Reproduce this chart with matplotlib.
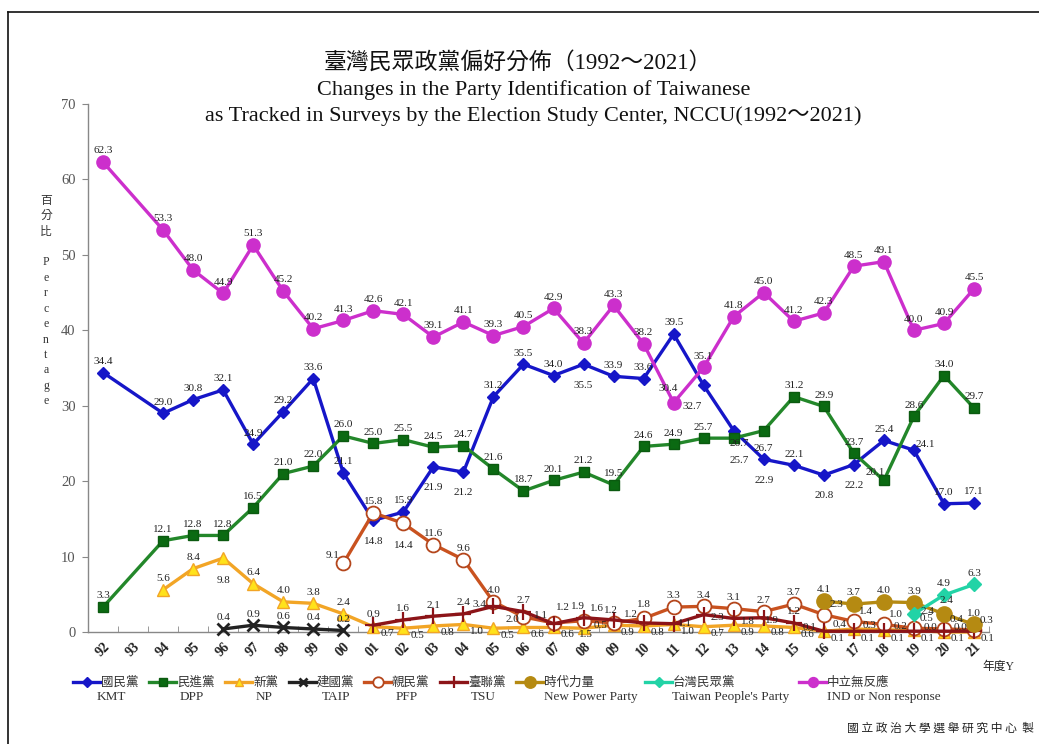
import matplotlib
matplotlib.use("Agg")
import matplotlib.pyplot as plt
from matplotlib.lines import Line2D

# ---------------- data ----------------
years_all = list(range(1992, 2022))
tick_labels = [f"{y % 100:02d}" for y in years_all]

main_years = [1992] + list(range(1994, 2022))
kmt = [34.4, 29.0, 30.8, 32.1, 24.9, 29.2, 33.6, 21.1, 14.8, 15.9, 21.9, 21.2, 31.2, 35.5,
       34.0, 35.5, 33.9, 33.6, 39.5, 32.7, 26.7, 22.9, 22.1, 20.8, 22.2, 25.4, 24.1, 17.0, 17.1]
dpp = [3.3, 12.1, 12.8, 12.8, 16.5, 21.0, 22.0, 26.0, 25.0, 25.5, 24.5, 24.7, 21.6, 18.7,
       20.1, 21.2, 19.5, 24.6, 24.9, 25.7, 25.7, 26.7, 31.2, 29.9, 23.7, 20.1, 28.6, 34.0, 29.7]
ind = [62.3, 53.3, 48.0, 44.9, 51.3, 45.2, 40.2, 41.3, 42.6, 42.1, 39.1, 41.1, 39.3, 40.5,
       42.9, 38.3, 43.3, 38.2, 30.4, 35.1, 41.8, 45.0, 41.2, 42.3, 48.5, 49.1, 40.0, 40.9, 45.5]

np_years = list(range(1994, 2022))
np_vals = [5.6, 8.4, 9.8, 6.4, 4.0, 3.8, 2.4, 0.7, 0.5, 0.8, 1.0, 0.5, 0.6, 0.6,
           0.5, 0.9, 0.8, 1.0, 0.7, 0.9, 0.8, 0.6, 0.1, 0.4, 0.3, 0.2, 0.0, 0.0]

taip_years = list(range(1996, 2001))
taip_vals = [0.4, 0.9, 0.6, 0.4, 0.2]

pfp_years = list(range(2000, 2022))
pfp_vals = [9.1, 15.8, 14.4, 11.6, 9.6, 4.0, 2.0, 1.2, 1.5, 1.2, 1.8, 3.3, 3.4, 3.1,
            2.7, 3.7, 2.3, 1.4, 1.0, 0.5, 0.4, 0.3]

tsu_years = list(range(2001, 2022))
tsu_vals = [0.9, 1.6, 2.1, 2.4, 3.4, 2.7, 1.1, 1.9, 1.6, 1.2, 1.1, 2.3, 1.8, 1.9,
            1.2, 0.1, 0.1, 0.1, 0.1, 0.1, 0.1]

npp_years = list(range(2016, 2022))
npp_vals = [4.1, 3.7, 4.0, 3.9, 2.4, 1.0]

tpp_years = [2019, 2020, 2021]
tpp_vals = [2.4, 4.9, 6.3]

# ---------------- style ----------------
SERIF = ["Liberation Serif", "Noto Sans CJK TC"]
CJK = ["Noto Sans CJK TC", "DejaVu Sans"]
plt.rcParams["font.family"] = SERIF

W, H = 1039, 744
fig = plt.figure(figsize=(W / 100, H / 100), dpi=100)
fig.patch.set_facecolor("white")

def fx(px):
    return px / W

def fy(py):
    return 1 - py / H

ax = fig.add_axes([fx(88), fy(632), fx(989) - fx(88), fy(104) - fy(632)])

xpos = {y: i for i, y in enumerate(years_all)}

series = [
    # key, years, values, line color, marker, msize, face, edge, mew
    ("KMT", main_years, kmt, "#1616C8", "D", 6.5, "#1616C8", "#1616C8", 1),
    ("DPP", main_years, dpp, "#23872A", "s", 7, "#0B6A12", "#0B5A10", 1),
    ("NP", np_years, np_vals, "#F2A526", "^", 8.5, "#FFE21A", "#F2A526", 1),
    ("TAIP", taip_years, taip_vals, "#222222", "x", 8, "#222222", "#222222", 2),
    ("PFP", pfp_years, pfp_vals, "#C9521F", "o", 10, "white", "#B4461C", 1.3),
    ("TSU", tsu_years, tsu_vals, "#8C1418", "+", 11, "#8C1418", "#8C1418", 1.6),
    ("NPP", npp_years, npp_vals, "#B58A12", "o", 11, "#B58A12", "#B58A12", 1),
    ("TPP", tpp_years, tpp_vals, "#22D3A6", "D", 7, "#22D3A6", "#22D3A6", 1),
    ("IND", main_years, ind, "#CC2FCC", "o", 9.5, "#CC2FCC", "#CC2FCC", 1),
]

# label offsets (points); default is above the point
offsets = {
    ("KMT", 2001): (0, -15), ("KMT", 2003): (0, -15), ("KMT", 2004): (0, -15),
    ("KMT", 2008): (0, -15), ("KMT", 2012): (-8, -15), ("KMT", 2013): (4, -9),
    ("KMT", 2014): (0, -15), ("KMT", 2016): (0, -15), ("KMT", 2017): (0, -15),
    ("KMT", 2019): (8, 4),
    ("DPP", 2013): (4, -16), ("DPP", 2014): (0, -13), ("DPP", 2018): (-6, 6),
    ("IND", 2011): (-4, 10),
    ("PFP", 2000): (-8, 6), ("PFP", 2002): (0, -16), ("PFP", 2006): (-8, -2),
    ("PFP", 2007): (7, 11), ("PFP", 2008): (2, -10), ("PFP", 2009): (-2, 9),
    ("PFP", 2010): (0, 10),
    ("NP", 1996): (0, -16), ("NP", 2008): (12, 2),
    ("TSU", 2005): (-10, 1), ("TSU", 2007): (-9, 6), ("TSU", 2008): (-4, 8),
    ("TSU", 2009): (-12, 8), ("TSU", 2010): (-9, 6),
    ("TSU", 2011): (8, 0), ("TSU", 2012): (10, -2),
    ("TSU", 2013): (10, -2), ("TSU", 2014): (6, -2),
    ("TPP", 2019): (10, 2), ("NPP", 2020): (2, 10),
}

for key, yrs, vals, lc, mk, ms, mf, me, mew in series:
    xs = [xpos[y] for y in yrs]
    ax.plot(xs, vals, color=lc, lw=2.4, marker=mk, markersize=ms,
            markerfacecolor=mf, markeredgecolor=me, markeredgewidth=mew,
            solid_joinstyle="round", zorder=3, clip_on=False)
    for y, x, v in zip(yrs, xs, vals):
        if (key, y) in offsets:
            dx, dy = offsets[(key, y)]
        elif key == "NP" and y > 2000:
            dx, dy = (10, -5) if y < 2016 else (-10, 3)
        elif key == "PFP" and y >= 2016:
            dx, dy = (9, 7)
        elif key == "TSU" and y >= 2016:
            dx, dy = (10, -5)
        else:
            dx, dy = (0, 8)
        ax.annotate(f"{v:.1f}", (x, v), xytext=(dx, dy), textcoords="offset points",
                    ha="center", va="center", fontsize=8, color="#222222",
                    family=SERIF, zorder=5)

ax.set_xlim(-0.5, 29.5)
ax.set_ylim(0, 70)
ax.set_yticks(range(0, 71, 10))
ax.set_xticks(range(len(years_all)))
ax.set_xticklabels(tick_labels, rotation=45, fontsize=10, fontweight="bold",
                   color="#222222")
ax.set_xticks([i + 0.5 for i in range(-1, len(years_all))], minor=True)
ax.tick_params(axis="x", which="major", length=0, pad=6)
ax.tick_params(axis="x", which="minor", length=4, direction="in", color="#888888")
ax.tick_params(axis="y", length=4, direction="out", color="#888888", labelsize=10.5,
               labelcolor="#555555", pad=5)
for s in ("top", "right"):
    ax.spines[s].set_visible(False)
for s in ("left", "bottom"):
    ax.spines[s].set_color("#888888")
    ax.spines[s].set_linewidth(1)
ax.patch.set_alpha(0)

# ---------------- titles ----------------
fig.text(fx(518), fy(63), "臺灣民眾政黨偏好分佈（1992～2021）",
         ha="center", va="center", fontsize=16.5, family=SERIF, color="#111111")
fig.text(fx(534), fy(90), "Changes in the Party Identification of Taiwanese",
         ha="center", va="center", fontsize=16, family=SERIF, color="#111111")
fig.text(fx(533), fy(116), "as Tracked in Surveys by the Election Study Center, NCCU(1992～2021)",
         ha="center", va="center", fontsize=16, family=SERIF, color="#111111")

# y axis label (stacked)
ylab = "百\n分\n比\n\nP\ne\nr\nc\ne\nn\nt\na\ng\ne"
fig.text(fx(46), fy(301), ylab, ha="center", va="center", fontsize=8.5,
         family=SERIF, color="#333333", linespacing=1.38)

fig.text(fx(998), fy(667), "年度Y", ha="center", va="center", fontsize=8.5,
         family=SERIF, color="#222222")

# ---------------- legend ----------------
legend_items = [
    ("KMT", "國民黨", "KMT", 73, 111),
    ("DPP", "民進黨", "DPP", 149, 192),
    ("NP", "新黨", "NP", 225, 264),
    ("TAIP", "建國黨", "TAIP", 289, 336),
    ("PFP", "親民黨", "PFP", 364, 407),
    ("TSU", "臺聯黨", "TSU", 440, 483),
    ("NPP", "時代力量", "New Power Party", 516, 591),
    ("TPP", "台灣民眾黨", "Taiwan People's Party", 645, 731),
    ("IND", "中立無反應", "IND or Non response", 799, 884),
]
style = {s[0]: s for s in series}
for key, zh, en, x0, xen in legend_items:
    _, _, _, lc, mk, ms, mf, me, mew = style[key]
    ln = Line2D([fx(x0), fx(x0 + 27)], [fy(682), fy(682)], transform=fig.transFigure,
                color=lc, lw=2.4, marker=None)
    fig.lines.append(ln)
    mkr = Line2D([fx(x0 + 13.5)], [fy(682)], transform=fig.transFigure, linestyle="none",
                 marker=mk, markersize=ms * 0.75, markerfacecolor=mf, markeredgecolor=me,
                 markeredgewidth=mew)
    fig.lines.append(mkr)
    fig.text(fx(x0 + 28), fy(682), zh, ha="left", va="center", fontsize=9,
             family=CJK, color="#333333")
    fig.text(fx(xen), fy(697), en, ha="center", va="center", fontsize=9.5,
             family=SERIF, color="#333333")

fig.text(fx(1034), fy(728), "國 立 政 治 大 學 選 舉 研 究 中 心  製", ha="right",
         va="center", fontsize=8.5, family=CJK, color="#222222")

# outer frame (left and top edges)
fig.lines.append(Line2D([fx(8), fx(8)], [0, fy(12)], transform=fig.transFigure,
                        color="#111111", lw=1.2))
fig.lines.append(Line2D([fx(8), 1], [fy(12), fy(12)], transform=fig.transFigure,
                        color="#111111", lw=1.2))

fig.savefig("out.png", dpi=100)
